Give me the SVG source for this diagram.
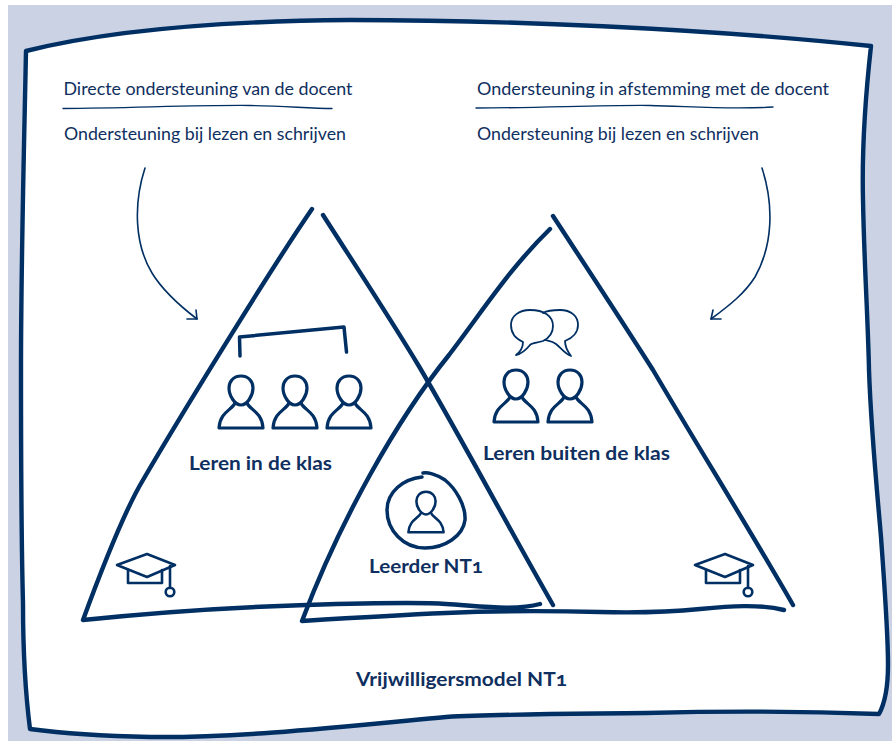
<svg xmlns="http://www.w3.org/2000/svg" xmlns:xlink="http://www.w3.org/1999/xlink" width="892" height="741" viewBox="0 0 892 741">
<style>
text{font-family:"Lato","Open Sans",sans-serif;fill:#0f2f60;font-size:17px;font-variant-numeric:oldstyle-nums}
.b{font-weight:700;font-size:18.5px}
.s{fill:none;stroke:#002f63;stroke-linecap:round;stroke-linejoin:round}
.t{stroke-width:4.400}
.i{stroke-width:3.500}
.n{stroke-width:1.600}
.u{stroke-width:1.300}
.p{stroke-width:3.200}
</style>
<defs>
<g id="person" class="s"><path d="M241 376C233 376 229 382 229 388C229 396 235 405 241 405C247 405 253 396 253 388C253 382 249 376 241 376Z"/><path d="M235 403C232 410 220 412 219 428H263C262 412 250 410 247 403"/></g>
<g id="cap" class="s" style="stroke-width:2.600"><path d="M117 565L147 554L175 565L147 577Z"/><path d="M128 570V583H162V570"/><path d="M170 566V588"/><circle cx="170" cy="592" r="4.300"/></g>
</defs>
<rect x="8" y="5" width="884" height="736" fill="#cbd2e4"/>
<g id="frame"><path d="M26 51C110 30 230 21 350 20C500 20 700 28 871 46C865 100 862 160 863 200C864 260 868 320 869 370C871 430 877 490 881 537C884 580 888 630 888 665C888 685 885 703 879 714C800 711 720 711 646 713C560 714 500 714 446 717C340 727 240 738 150 737C100 736 60 733 30 729C25 690 23 650 23 603C21 530 21 450 21 370C21 260 24 150 26 51Z" fill="#fff" stroke="#002f63" stroke-width="4.400" stroke-linejoin="round"/></g>
<g id="connectors">
<path class="s n" d="M145 168C133 205 135 245 152 273C163 291 180 306 197 319"/>
<path class="s n" d="M187 319L197 319L196 310"/>
<path class="s n" d="M762 168C774 205 773 245 755 277C745 293 730 305 711 319"/>
<path class="s n" d="M721 319L711 319L713 310"/>
</g>
<g id="triangle-left"><path class="s t" d="M312 209C270 270 178 420 143 480C125 510 105 560 83 620C150 613 240 607 306 605C370 603 420 602 446 604C480 606 515 611 540 604"/><path class="s t" d="M323 215C355 265 390 318 420 368C465 445 510 530 553 605"/></g>
<g id="triangle-right"><path class="s t" d="M550 229C510 268 484 309 449 355C398 418 340 520 302 621C350 618 400 615 446 613C490 611 560 611 600 612C640 613 670 612 700 609C730 606 760 604 784 610"/><path class="s t" d="M553 216C585 265 620 318 653 370C700 450 750 530 793 605"/></g>
<g id="header-left"><text x="63.500" y="95" textLength="289" lengthAdjust="spacingAndGlyphs">Directe ondersteuning van de docent</text><path class="s u" d="M63 108.500C130 108 200 105 250 105.500C285 106 310 108.500 332 108.500"/><text x="64" y="140" textLength="282" lengthAdjust="spacingAndGlyphs">Ondersteuning bij lezen en schrijven</text></g>
<g id="header-right"><text x="477" y="95" textLength="352" lengthAdjust="spacingAndGlyphs">Ondersteuning in afstemming met de docent</text><path class="s u" d="M476 108C540 108 600 105 650 105.500C685 106 730 110 773 107"/><text x="477" y="140" textLength="282" lengthAdjust="spacingAndGlyphs">Ondersteuning bij lezen en schrijven</text></g>
<g id="leren-in-de-klas">
<path class="s i" d="M240 356L239.500 337L344 327L346.500 352"/>
<use xlink:href="#person" class="p"/>
<use xlink:href="#person" x="54" class="p"/>
<use xlink:href="#person" x="108" class="p"/>
<text class="b" x="189" y="470" textLength="143" lengthAdjust="spacingAndGlyphs">Leren in de klas</text>
<use xlink:href="#cap"/>
</g>
<g id="leren-buiten-de-klas">
<path class="s" stroke-width="1.800" d="M516 355C520 352 523 348 523 342C514 338 511 332 511 325C511 316 519 310 530 310C544 310 553 316 553 326C553 333 549 338 543 341C537 343 532 343 530 345C526 350 521 354 516 355Z"/>
<path class="s" stroke-width="1.800" d="M543 313C548 310 554 310 560 310C571 310 578 316 578 325C578 332 573 338 565 341C565 347 568 352 571 356C565 354 561 348 556 344C552 341 548 341 545 340"/>
<use xlink:href="#person" x="275" y="-6" class="p"/>
<use xlink:href="#person" x="329" y="-6" class="p"/>
<text class="b" x="483" y="460" textLength="187" lengthAdjust="spacingAndGlyphs">Leren buiten de klas</text>
<use xlink:href="#cap" x="578"/>
</g>
<g id="leerder">
<path class="s i" d="M423 473C427 472 436 474 445 480C455 488 466 505 465 520C463 536 445 548 425 548C403 548 387 530 387 510C387 492 403 479 422 477"/>
<use xlink:href="#person" transform="translate(426 491) scale(.8 .78) translate(-241 -375)" class="p"/>
<text class="b" x="369" y="573" textLength="114" lengthAdjust="spacingAndGlyphs">Leerder NT1</text>
</g>
<g id="title"><text class="b" x="356" y="686" textLength="211" lengthAdjust="spacingAndGlyphs">Vrijwilligersmodel NT1</text></g>
</svg>
